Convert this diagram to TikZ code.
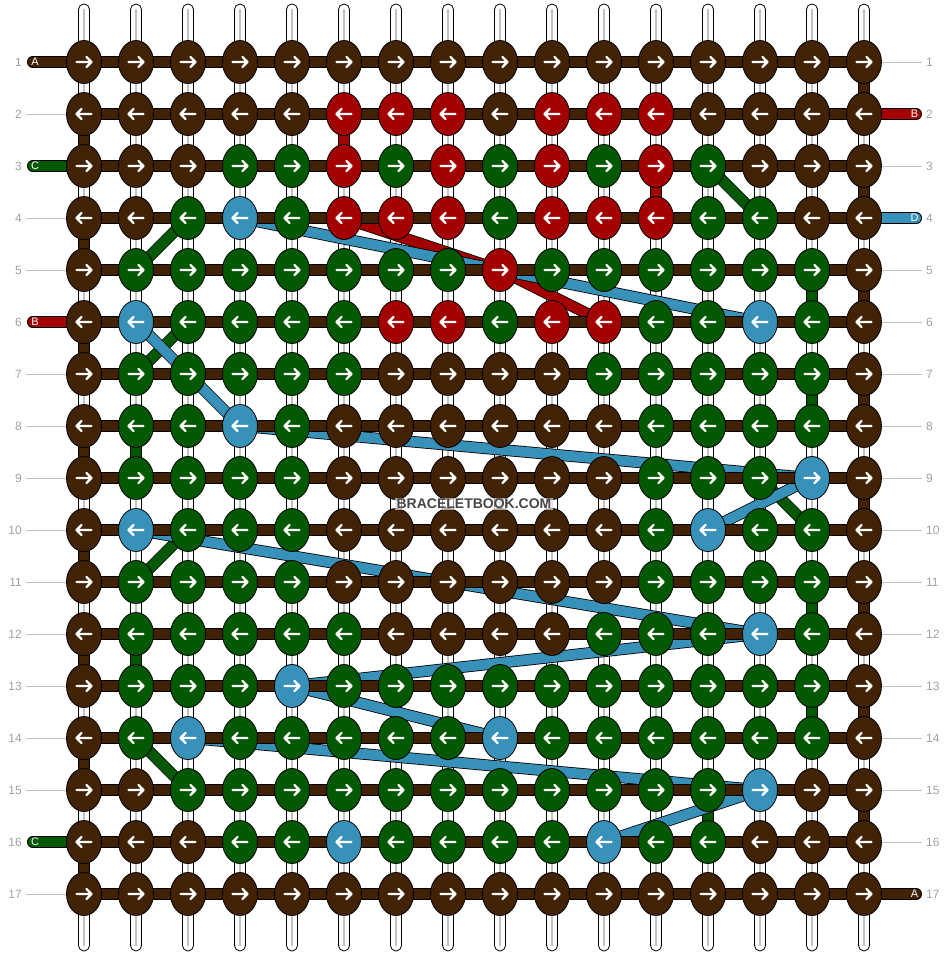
\documentclass[tikz,border=0pt]{standalone}
\usepackage{fontspec}
\setmainfont{Liberation Sans}
\usetikzlibrary{shapes.geometric}
\pgfdeclarelayer{strings}
\pgfdeclarelayer{conns}
\pgfdeclarelayer{rows}
\pgfsetlayers{strings,conns,rows,main}
\definecolor{cn}{RGB}{66,34,5}
\definecolor{cr}{RGB}{163,0,0}
\definecolor{cg}{RGB}{0,88,0}
\definecolor{cb}{RGB}{56,145,185}
\definecolor{labc}{RGB}{160,160,160}
\definecolor{linec}{RGB}{192,192,192}
\newcommand\knotrow[2]{%
  \ifodd#1\relax\def\dd{1}\else\def\dd{-1}\fi
  \foreach \k [count=\c] in {#2}{%
    \pgfmathsetmacro\xx{84+52*(\c-1)}%
    \pgfmathsetmacro\yy{62+52*(#1-1)}%
    \pgfmathsetmacro\xa{\xx-7.5*(\dd)}%
    \pgfmathsetmacro\xb{\xx+7.5*(\dd)}%
    \pgfmathsetmacro\xc{\xx+2.5*(\dd)}%
    \node[knot, fill=c\k] (k#1-\c) at (\xx,\yy) {};
    \draw[arrw] (\xa,\yy) -- (\xb,\yy)
      (\xc,\yy-5) -- (\xb,\yy) -- (\xc,\yy+5);
  }%
}
\begin{document}
\begin{tikzpicture}[x=1pt,y=-1pt,
  knot/.style={ellipse, draw=black, line width=0.8, minimum width=35, minimum height=43, inner sep=0},
  arrw/.style={draw=white, line width=2.4, line cap=round, line join=round},
  conn/.style={draw=black, line width=0.8, double=#1, double distance=10},
  tab/.style={draw=black, line width=0.8, double=#1, double distance=10, line cap=round},
  strg/.style={draw=black, line width=0.8, fill=white, rounded corners=5.4},
  tabtxt/.style={text=white, font=\fontsize{11}{11}\selectfont, inner sep=0},
  numl/.style={text=labc, font=\fontsize{12}{12}\selectfont, inner sep=0},
  lbl/.style={draw=linec, line width=0.9}]
\useasboundingbox (0,0) rectangle (948,956);

% knots
\knotrow{1}{n,n,n,n,n,n,n,n,n,n,n,n,n,n,n,n}
\knotrow{2}{n,n,n,n,n,r,r,r,n,r,r,r,n,n,n,n}
\knotrow{3}{n,n,n,g,g,r,g,r,g,r,g,r,g,n,n,n}
\knotrow{4}{n,n,g,b,g,r,r,r,g,r,r,r,g,g,n,n}
\knotrow{5}{n,g,g,g,g,g,g,g,r,g,g,g,g,g,g,n}
\knotrow{6}{n,b,g,g,g,g,r,r,g,r,r,g,g,b,g,n}
\knotrow{7}{n,g,g,g,g,g,n,n,n,n,g,g,g,g,g,n}
\knotrow{8}{n,g,g,b,g,n,n,n,n,n,n,g,g,g,g,n}
\knotrow{9}{n,g,g,g,g,n,n,n,n,n,n,g,g,g,b,n}
\knotrow{10}{n,b,g,g,g,n,n,n,n,n,n,g,b,g,g,n}
\knotrow{11}{n,g,g,g,g,n,n,n,n,n,n,g,g,g,g,n}
\knotrow{12}{n,g,g,g,g,g,n,n,n,n,g,g,g,b,g,n}
\knotrow{13}{n,g,g,g,b,g,g,g,g,g,g,g,g,g,g,n}
\knotrow{14}{n,g,b,g,g,g,g,g,b,g,g,g,g,g,g,n}
\knotrow{15}{n,n,g,g,g,g,g,g,g,g,g,g,g,b,n,n}
\knotrow{16}{n,n,n,g,g,b,g,g,g,g,b,g,g,n,n,n}
\knotrow{17}{n,n,n,n,n,n,n,n,n,n,n,n,n,n,n,n}

% white base strings
\begin{pgfonlayer}{strings}
\foreach \c in {1,...,16}{
  \pgfmathsetmacro\xx{84+52*(\c-1)}
  \draw[strg] ({\xx-5.5},4) rectangle ({\xx+5.5},951);
  \draw[linec, line width=1.2] (\xx,9) -- (\xx,946);
}
\end{pgfonlayer}

% thread connectors between rows
\begin{pgfonlayer}{conns}
\foreach \r [evaluate=\r as \s using int(\r+1)] in {1,3,...,15}
  \draw[conn=cn] (k\r-16.center) -- (k\s-16.center);
\foreach \r [evaluate=\r as \s using int(\r+1)] in {2,4,...,16}
  \draw[conn=cn] (k\r-1.center) -- (k\s-1.center);
\foreach \a/\b/\cc in {2-6/3-6/cr, 3-12/4-12/cr, 4-6/5-9/cr, 5-9/6-11/cr,
  3-13/4-14/cg, 4-3/5-2/cg, 5-15/6-15/cg, 6-3/7-2/cg, 7-15/8-15/cg, 8-2/9-2/cg,
  9-14/10-15/cg, 10-3/11-2/cg, 11-15/12-15/cg, 12-2/13-2/cg, 13-15/14-15/cg,
  14-2/15-3/cg, 15-13/16-13/cg,
  4-4/6-14/cb, 6-2/8-4/cb, 8-4/9-15/cb, 9-15/10-13/cb, 10-2/12-14/cb,
  12-14/13-5/cb, 13-5/14-9/cb, 14-3/15-14/cb, 15-14/16-11/cb}
  \draw[conn=\cc] (k\a.center) -- (k\b.center);
\end{pgfonlayer}

% row threads and tabs
\begin{pgfonlayer}{rows}
\foreach \r in {1,...,17}
  \draw[conn=cn] (k\r-1.center) -- (k\r-16.center);
\coordinate (tl1) at (32.8,62);
\coordinate (tl3) at (32.8,166);
\coordinate (tl6) at (32.8,322);
\coordinate (tl16) at (32.8,842);
\coordinate (tr2) at (916.2,114);
\coordinate (tr4) at (916.2,218);
\coordinate (tr17) at (916.2,894);
\draw[tab=cn] (tl1) -- (k1-1.center);
\draw[tab=cg] (tl3) -- (k3-1.center);
\draw[tab=cr] (tl6) -- (k6-1.center);
\draw[tab=cg] (tl16) -- (k16-1.center);
\draw[tab=cr] (tr2) -- (k2-16.center);
\draw[tab=cb] (tr4) -- (k4-16.center);
\draw[tab=cn] (tr17) -- (k17-16.center);
\end{pgfonlayer}

% tab letters
\node[tabtxt] (la1) at (35,62) {A};
\node[tabtxt] (lc3) at (35,166) {C};
\node[tabtxt] (lb6) at (35,322) {B};
\node[tabtxt] (lc16) at (35,842) {C};
\node[tabtxt] (rb2) at (914.5,114) {B};
\node[tabtxt] (rd4) at (914.5,218) {D};
\node[tabtxt] (ra17) at (914.5,894) {A};

% row numbers and guide lines
\foreach \r in {1,...,17}{
  \pgfmathsetmacro\yy{62+52*(\r-1)}
  \node[numl, anchor=east] (nl\r) at (22,\yy) {\r};
  \node[numl, anchor=west] (nr\r) at (926,\yy) {\r};
}
\foreach \r in {2,4,5,7,8,9,10,11,12,13,14,15,17}{
  \pgfmathsetmacro\yy{62+52*(\r-1)}
  \coordinate (gl\r) at (26,\yy);
  \draw[lbl] (gl\r) -- (k\r-1.west);
}
\foreach \r in {1,3,5,6,7,8,9,10,11,12,13,14,15,16}{
  \pgfmathsetmacro\yy{62+52*(\r-1)}
  \coordinate (gr\r) at (922,\yy);
  \draw[lbl] (k\r-16.east) -- (gr\r);
}

% watermark
\node[fill=white, fill opacity=0.6, text opacity=1, text=black!72,
  font=\bfseries\fontsize{14}{14}\selectfont, inner sep=1.2] (wm) at (474,504) {BRACELETBOOK.COM};
\end{tikzpicture}
\end{document}
